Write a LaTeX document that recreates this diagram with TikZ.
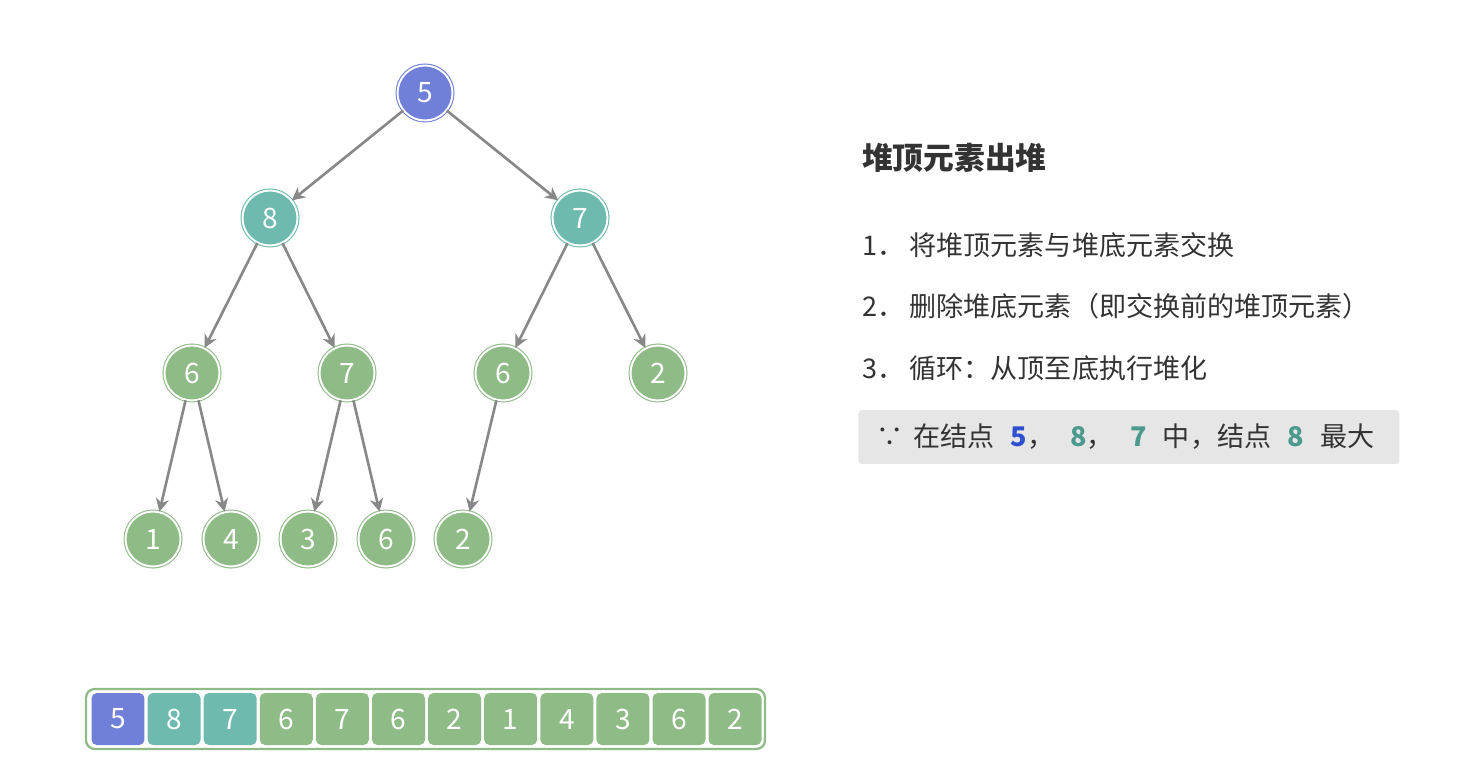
\documentclass[tikz,border=0pt]{standalone}
\usepackage{fontspec}
\setmainfont{Noto Sans CJK SC}
\usetikzlibrary{arrows.meta}
\definecolor{rootblue}{RGB}{112, 128, 216}
\definecolor{tealnode}{RGB}{110, 186, 174}
\definecolor{greennode}{RGB}{143, 187, 135}
\definecolor{edgegray}{RGB}{136, 136, 136}
\definecolor{hintgray}{RGB}{230, 230, 230}
\definecolor{textdark}{RGB}{51, 51, 51}
\definecolor{numblue}{RGB}{48, 80, 208}
\definecolor{numteal}{RGB}{76, 154, 142}
\tikzset{
  heapnode/.style  = {circle, minimum size=1.1cm, inner sep=0pt, line width=0.6pt, double=white, double distance=1.1pt, text=white, font=\fontsize{16}{18}\selectfont},
  toprt/.style     = {heapnode, draw=rootblue, fill=rootblue},
  swapn/.style     = {heapnode, draw=tealnode, fill=tealnode},
  plainn/.style    = {heapnode, draw=greennode, fill=greennode},
  edge/.style      = {-{Stealth[length=7.5pt, width=7.5pt]}, line width=1.5pt, edgegray},
  cell/.style      = {rectangle, rounded corners=3pt, minimum width=1.06cm, minimum height=1.04cm, inner sep=0pt, text=white, font=\fontsize{16}{18}\selectfont},
  titletext/.style = {anchor=west, text=textdark, font=\fontsize{17.5}{20}\selectfont\bfseries},
  steptext/.style  = {anchor=west, text=textdark, font=\fontsize{15.4}{18}\selectfont},
  hintbox/.style   = {anchor=west, fill=hintgray, rounded corners=2pt, minimum height=1.08cm, text width=10.3cm, inner xsep=0.26cm, align=left, text=textdark, font=\fontsize{15.4}{18}\selectfont},
}
\newcommand{\hnum}[2]{\hspace{0.6em}\textbf{\textcolor{#1}{#2}}}

\begin{document}
\begin{tikzpicture}[x=0.02cm, y=-0.02cm]
\useasboundingbox (0,0) rectangle (1476,776);

% 堆（树）
\node[toprt]  (n0) at (425,93)  {5};
\node[swapn]  (n1) at (270,218) {8};
\node[swapn]  (n2) at (580,218) {7};
\node[plainn] (n3) at (192,373) {6};
\node[plainn] (n4) at (347,373) {7};
\node[plainn] (n5) at (503,373) {6};
\node[plainn] (n6) at (658,373) {2};
\node[plainn] (n7) at (153,539) {1};
\node[plainn] (n8) at (231,539) {4};
\node[plainn] (n9) at (308,539) {3};
\node[plainn] (n10) at (386,539) {6};
\node[plainn] (n11) at (463,539) {2};

% 边
\draw[edge] (n0) -- (n1);
\draw[edge] (n0) -- (n2);
\draw[edge] (n1) -- (n3);
\draw[edge] (n1) -- (n4);
\draw[edge] (n2) -- (n5);
\draw[edge] (n2) -- (n6);
\draw[edge] (n3) -- (n7);
\draw[edge] (n3) -- (n8);
\draw[edge] (n4) -- (n9);
\draw[edge] (n4) -- (n10);
\draw[edge] (n5) -- (n11);

% 数组
\draw[greennode, line width=1.3pt, rounded corners=5pt] (86,689) rectangle (765,749);
\foreach \v/\c [count=\i from 0] in {5/rootblue, 8/tealnode, 7/tealnode, 6/greennode, 7/greennode, 6/greennode, 2/greennode, 1/greennode, 4/greennode, 3/greennode, 6/greennode, 2/greennode}
  \node[cell, fill=\c] (a\i) at (118+56.1*\i,719) {\v};

% 说明文字
\node[titletext] (title) at (856,158) {堆顶元素出堆};
\node[steptext] (s1) at (856,245) {1．\hspace{0.2em}将堆顶元素与堆底元素交换};
\node[steptext] (s2) at (856,306) {2．\hspace{0.2em}删除堆底元素（即交换前的堆顶元素）};
\node[steptext] (s3) at (856,368) {3．\hspace{0.2em}循环：从顶至底执行堆化};
\node[hintbox] (hint) at (858,437) {\hspace{0.2em}∵\hspace{0.35em}在结点\hnum{numblue}{5}，\hnum{numteal}{8}，\hnum{numteal}{7}\hspace{0.6em}中，结点\hnum{numteal}{8}\hspace{0.6em}最大};

\end{tikzpicture}
\end{document}
